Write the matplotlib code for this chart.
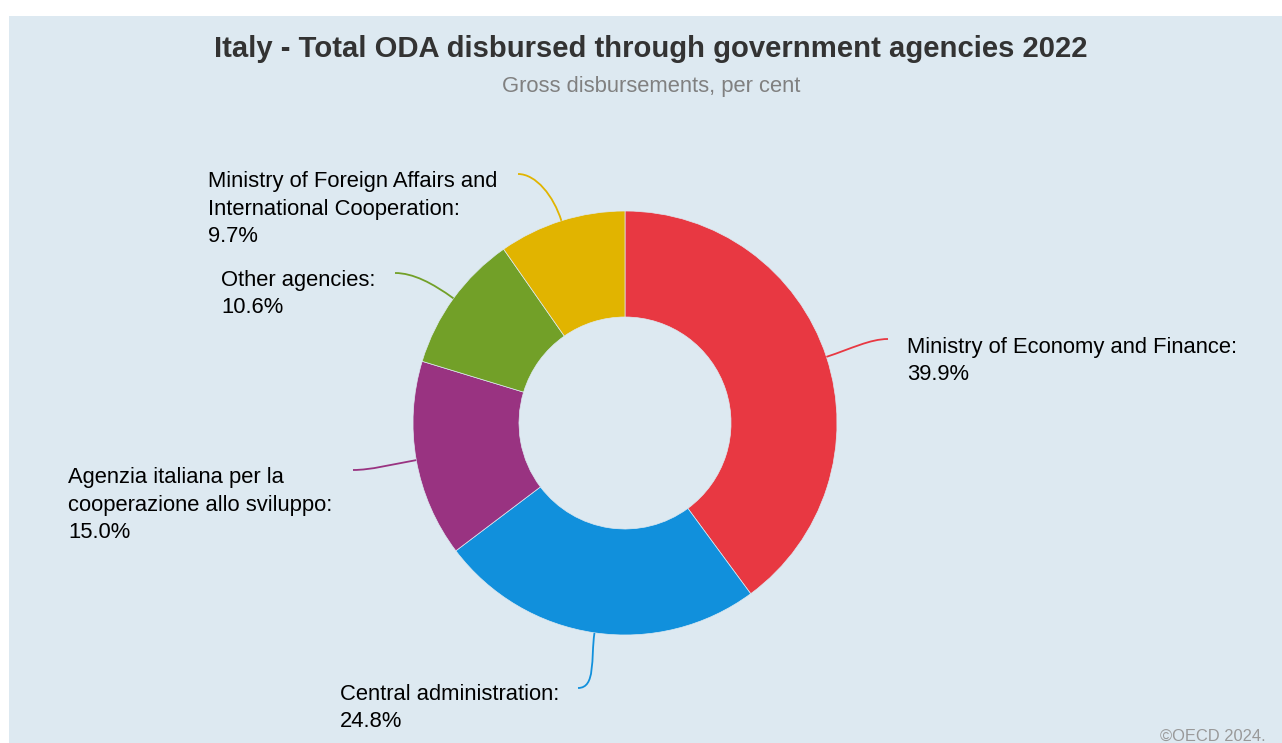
import matplotlib
matplotlib.use('Agg')
import matplotlib.pyplot as plt
from matplotlib.patches import Rectangle, PathPatch
from matplotlib.path import Path
import numpy as np

plt.rcParams['font.family'] = ['Liberation Sans', 'DejaVu Sans']

# ODA 2022 by agency, gross disbursements (% of total)
agencies = ['Ministry of Economy and Finance',
            'Central administration',
            'Agenzia italiana per la\ncooperazione allo sviluppo',
            'Other agencies',
            'Ministry of Foreign Affairs and\nInternational Cooperation']
shares = [39.9, 24.8, 15.0, 10.6, 9.7]
colors = ['#e83842', '#1190dc', '#993381', '#72a028', '#e1b400']

# canvas in pixels
W, H = 1282, 743
BG = '#dde9f1'
CX, CY = 625, H - 423
R_OUT, R_IN = 212, 106

# label anchors: (left x, last-line baseline y) in pixels from top-left, and which side
label_pos = [(907, 380, 'right'), (340, 727, 'left'), (68, 538, 'left'),
             (221, 313, 'left'), (208, 242, 'left')]
# connector end points near each label (pixels from top-left)
conn_end = [(888, 339), (578, 688), (353, 470), (395, 273), (518, 174)]

fig = plt.figure(figsize=(W / 100, H / 100), dpi=100)
fig.patch.set_facecolor('white')
ax = fig.add_axes([0, 0, 1, 1])

ax.add_patch(Rectangle((9, 0), W - 9, H - 16, facecolor=BG, edgecolor='none', zorder=0))

wedges, _ = ax.pie(shares, colors=colors, startangle=90, counterclock=False,
                   radius=R_OUT, center=(CX, CY),
                   wedgeprops=dict(width=R_OUT - R_IN, edgecolor=BG, linewidth=0.5))
for w in wedges:
    w.set_zorder(2)

ax.set_xlim(0, W)
ax.set_ylim(0, H)
ax.set_aspect('equal')
ax.axis('off')

for w, name, val, col, (lx, ly, side), (ex, ey) in zip(
        wedges, agencies, shares, colors, label_pos, conn_end):
    mid = np.deg2rad((w.theta1 + w.theta2) / 2)
    d = np.array([np.cos(mid), np.sin(mid)])
    start = np.array([CX, CY]) + R_OUT * d
    end = np.array([ex, H - ey])
    toward = 1 if side == 'left' else -1
    c1 = start + 26 * d
    c2 = end + np.array([18 * toward, 0])
    path = Path([start, c1, c2, end], [Path.MOVETO, Path.CURVE4, Path.CURVE4, Path.CURVE4])
    ax.add_patch(PathPatch(path, facecolor='none', edgecolor=col, lw=1.3, zorder=3))
    ax.text(lx, H - ly, f'{name}:\n{val:.1f}%', ha='left', va='baseline',
            fontsize=15.8, color='black', linespacing=1.4, zorder=4)

ax.text(651, H - 57, 'Italy - Total ODA disbursed through government agencies 2022',
        ha='center', va='baseline', fontsize=21.1, fontweight='bold', color='#333333')
ax.text(651, H - 92, 'Gross disbursements, per cent', ha='center', va='baseline',
        fontsize=15.8, color='#808080')
ax.text(1266, H - 741, '\u00a9OECD 2024.', ha='right', va='baseline',
        fontsize=11.9, color='#999999')

fig.savefig('out.png', dpi=100, facecolor=fig.get_facecolor())
